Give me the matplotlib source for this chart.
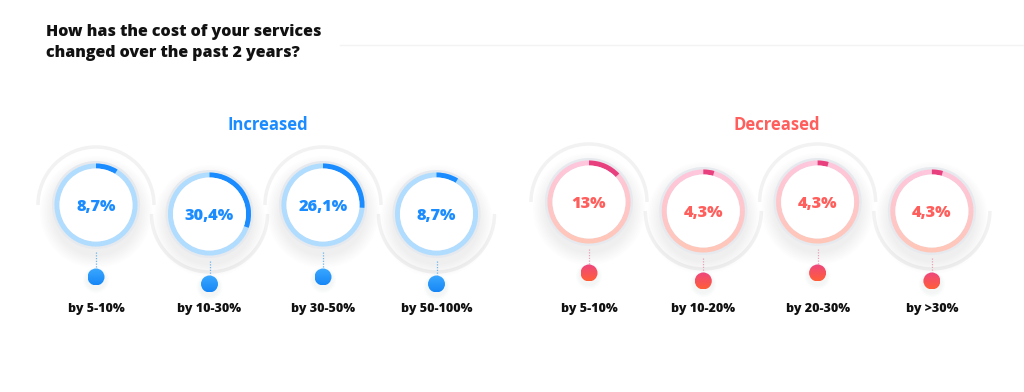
import numpy as np
import matplotlib
matplotlib.use("Agg")
import matplotlib.pyplot as plt
from matplotlib.patches import Circle, Wedge, Arc

# ---------------- data ----------------
title_lines = ["How has the cost of your services", "changed over the past 2 years?"]
groups = ["Increased", "Decreased"]
inc_labels = ["by 5-10%", "by 10-30%", "by 30-50%", "by 50-100%"]
inc_values = [8.7, 30.4, 26.1, 8.7]
dec_labels = ["by 5-10%", "by 10-20%", "by 20-30%", "by >30%"]
dec_values = [13, 4.3, 4.3, 4.3]

plt.rcParams['font.family'] = ['Open Sans', 'DejaVu Sans']

W, H = 1024, 392
fig = plt.figure(figsize=(W / 100, H / 100), dpi=100)
ax = fig.add_axes([0, 0, 1, 1])
ax.set_xlim(0, W)
ax.set_ylim(H, 0)
ax.axis('off')

# title
ax.text(46, 32, title_lines[0], fontsize=11.5, fontweight=800, color='#111111', va='center', ha='left')
ax.text(46, 53, title_lines[1], fontsize=11.5, fontweight=800, color='#111111', va='center', ha='left')
ax.plot([340, 1024], [45, 45], color='#f3f3f3', lw=1)

themes = {
    "Increased": dict(text='#1a8cff', ring_top='#b0ddff', ring_bot='#b0ddff', prog='#1a8cff',
                      dot_top='#3aa8ff', dot_bot='#1787f6', dash='#6fb5ee',
                      x0=96, dx=113.5, yc=(205, 214), ydot=(277, 284), hx=268),
    "Decreased": dict(text='#ff5f5c', ring_top='#ffc6dc', ring_bot='#ffc6b8', prog='#e8407f',
                      dot_top='#ee4680', dot_bot='#ff5e38', dash='#e9a3b5',
                      x0=589, dx=114.3, yc=(202, 211), ydot=(273, 281), hx=777),
}

R_OUT = 44
R_RING = 41.5
RING_W = 5


def gradient_dot(cx, cy, r, ctop, cbot):
    for k in range(3):
        ax.add_patch(Circle((cx, cy + 3), r + 1.5 + k * 1.5, color='#7a8aa0', alpha=0.025, lw=0, zorder=5))
    c1 = np.array(matplotlib.colors.to_rgb(ctop))
    c2 = np.array(matplotlib.colors.to_rgb(cbot))
    t = np.linspace(0, 1, 64)[:, None]
    img = (c1[None, :] * (1 - t) + c2[None, :] * t)[:, None, :].repeat(2, axis=1)
    im = ax.imshow(img, extent=(cx - r, cx + r, cy + r, cy - r), zorder=6, interpolation='bilinear')
    clip = Circle((cx, cy), r, transform=ax.transData)
    im.set_clip_path(clip)


def gradient_ring(cx, cy, ctop, cbot, n=72):
    c1 = np.array(matplotlib.colors.to_rgb(ctop))
    c2 = np.array(matplotlib.colors.to_rgb(cbot))
    step = 360 / n
    for k in range(n):
        a0 = k * step
        mid = np.deg2rad(a0 + step / 2)
        t = (np.sin(mid) + 1) / 2  # data y downwards -> bottom has t=1
        col = c1 * (1 - t) + c2 * t
        ax.add_patch(Wedge((cx, cy), R_RING, a0, a0 + step + 0.6, width=RING_W, color=col, lw=0, zorder=4))


for g, labels, values in [("Increased", inc_labels, inc_values), ("Decreased", dec_labels, dec_values)]:
    th = themes[g]
    ax.text(th['hx'], 125, g, fontsize=12, fontweight='bold', color=th['text'], ha='center', va='center')
    for i, (lab, v) in enumerate(zip(labels, values)):
        cx = th['x0'] + th['dx'] * i
        cy = th['yc'][i % 2]
        # decorative wave arc
        if i % 2 == 0:
            ax.add_patch(Arc((cx, cy), 116, 116, theta1=180, theta2=360, color='#f2f2f2', lw=2.5, zorder=1))
        else:
            ax.add_patch(Arc((cx, cy), 116, 116, theta1=0, theta2=180, color='#f2f2f2', lw=2.5, zorder=1))
        # shadow
        for k in range(8):
            ax.add_patch(Circle((cx, cy + 7), R_OUT + k * 1.7, color='#8090a8', alpha=0.016, lw=0, zorder=2))
        # grey outline
        ax.add_patch(Circle((cx, cy), R_OUT, color='#e6e9ee', lw=0, zorder=3))
        # ring
        gradient_ring(cx, cy, th['ring_top'], th['ring_bot'])
        # progress
        ax.add_patch(Wedge((cx, cy), R_RING, -90, -90 + 360 * v / 100, width=RING_W,
                           color=th['prog'], lw=0, zorder=5))
        # white center
        ax.add_patch(Circle((cx, cy), R_RING - RING_W, color='white', lw=0, zorder=5))
        txt = f"{v:g}".replace('.', ',') + '%'
        ax.text(cx, cy + 2, txt, fontsize=11.8, fontweight=800, color=th['text'],
                ha='center', va='center', zorder=7)
        # connector
        yd = th['ydot'][i % 2]
        ax.plot([cx, cx], [cy + R_OUT + 3, yd - 9], color=th['dash'], lw=0.9,
                ls=(0, (1, 1.2)), zorder=4)
        gradient_dot(cx, yd, 8.5, th['dot_top'], th['dot_bot'])
        ax.text(cx, 309, lab, fontsize=9, fontweight=800, color='#111111', ha='center', va='center')

fig.savefig('out.png', dpi=100, facecolor='white')
